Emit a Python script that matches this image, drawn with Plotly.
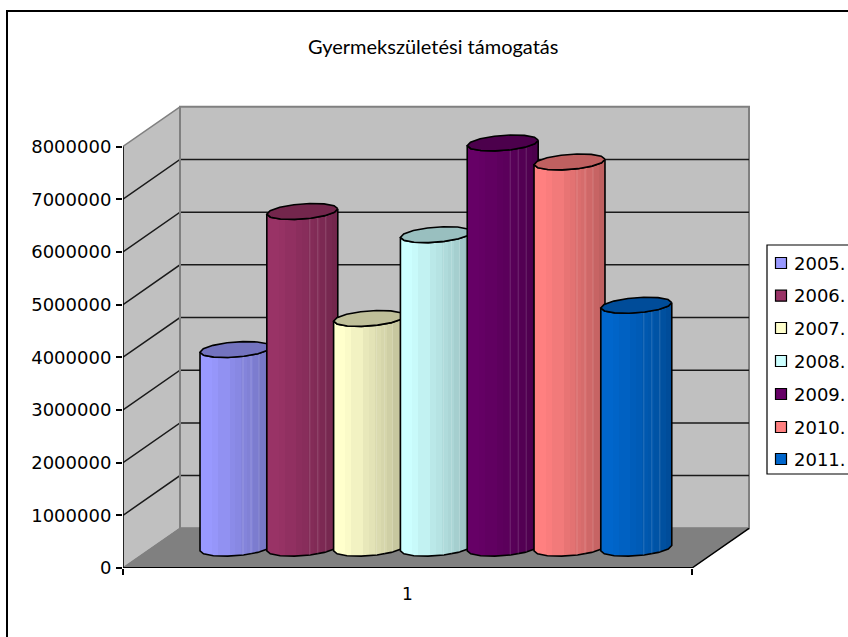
import numpy as np
import plotly.graph_objects as go

# ---- data ----
YEARS = ["2005.", "2006.", "2007.", "2008.", "2009.", "2010.", "2011."]
VALUES = [3770000, 6390000, 4360000, 5950000, 7690000, 7330000, 4610000]
COLORS = ["#9999FF", "#993366", "#FFFFCC", "#CCFFFF", "#660066", "#FF8080", "#0066CC"]
Y_TICKS = [0, 1000000, 2000000, 3000000, 4000000, 5000000, 6000000, 7000000, 8000000]
TITLE = "Gyermekszületési támogatás"
CATEGORY = "1"

# ---- page geometry (pixels) ----
W, H = 848, 637
X0, X1 = 123.0, 692.0       # front edge of floor
Y0, Y8 = 568.0, 146.5       # value axis 0 and 8 000 000
DPX, DPY = 57.0, 39.7       # depth of the box
FONT = "DejaVu Sans"
TITLE_FONT = "Lato"

ux = X1 - X0                            # px per x unit
uy = (Y0 - Y8) / 8000000.0              # px per value unit
dx, dy = DPX / ux, DPY / uy             # depth in data units
XMAX = (W - X0) / ux
YMAX = Y0 / uy
TOPV = Y_TICKS[-1]


def px(x):
    return (x - X0) / ux


def py(y):
    return (Y0 - y) / uy


def paper_x(x):
    return (x - X0) / (W - X0)


def paper_y(y):
    return (Y0 - y) / Y0


def shade(hexcol, f):
    r, g, b = [int(hexcol[i:i + 2], 16) for i in (1, 3, 5)]
    return f"rgb({r * f:.0f},{g * f:.0f},{b * f:.0f})"


fig = go.Figure()


def poly(xs, ys, fill=None, line=None, lw=1.5):
    fig.add_trace(go.Scatter(
        x=list(xs), y=list(ys), mode="lines", hoverinfo="skip", showlegend=False,
        fill="toself" if fill else "none", fillcolor=fill,
        line=dict(color=line or "rgba(0,0,0,0)", width=lw if line else 0),
    ))


# back wall, side wall, floor
poly([dx, 1 + dx, 1 + dx, dx, dx], [dy, dy, TOPV + dy, TOPV + dy, dy], fill="#C0C0C0", line="#808080", lw=2)
poly([0, dx, dx, 0, 0], [0, dy, TOPV + dy, TOPV, 0], fill="#C0C0C0", line="#808080", lw=1.5)
poly([0, dx, 1 + dx, 1, 0], [0, dy, dy, 0, 0], fill="#808080", line="#808080", lw=1)

# gridlines
for v in Y_TICKS[1:-1]:
    poly([0, dx, 1 + dx], [v, v + dy, v + dy], line="#1a1a1a", lw=1.5)

# redraw wall inner edge and the front-right floor edge
poly([dx, dx], [dy, TOPV + dy], line="#808080", lw=2)
poly([1, 1 + dx], [0, dy], line="#000000", lw=1.5)

# cylinders (faceted, like the low-polygon originals)
STEP = 66.8 / ux
CX0 = (235.5 - X0) / ux
AW = 33.5 / ux              # half width vector (x)
VX = 11.7 / ux              # half depth vector
VY = 8.0 / uy
FACETS = 14
t_round = np.linspace(0, 2 * np.pi, FACETS + 1) + 0.35
SHADES = [1.0, 1.0, 0.98, 0.95, 0.95, 0.91, 0.89, 0.86, 0.84, 0.81, 0.78, 0.75]
HILITES = [43.0, 51.0, 59.0]   # px from the cylinder's left edge
EXT = np.arctan2(VX * ux, AW * ux)

for i, (year, val, col) in enumerate(zip(YEARS, VALUES, COLORS)):
    cx = CX0 + i * STEP
    base = dy / 2
    t_b = np.linspace(EXT, EXT - np.pi, FACETS // 2 + 1)
    xb = cx + AW * np.cos(t_b) + VX * np.sin(t_b)
    yb = base + VY * np.sin(t_b)
    xt, yt = xb, yb + val
    bx = np.concatenate([xt[:1], xb, xt[-1:], xt[::-1]])
    by = np.concatenate([yt[:1], yb, yt[-1:], yt[::-1]])
    k = len(SHADES)
    cs = []
    for j, f in enumerate(SHADES):
        cs.append([j / k, shade(col, f)])
        cs.append([(j + 1) / k, shade(col, f)])
    fig.add_trace(go.Scatter(
        x=bx, y=by, mode="lines", name=year, hoverinfo="skip", showlegend=False,
        fill="toself", fillgradient=dict(type="horizontal", colorscale=cs),
        line=dict(color="#000000", width=1.6),
    ))
    # faint vertical seams on the shaded side
    left = xb.min()
    order = np.argsort(xb)
    for off in HILITES:
        sx = left + off / ux
        sy = float(np.interp(sx, xb[order], yb[order]))
        poly([sx, sx], [sy, sy + val], line="rgba(255,255,255,0.16)", lw=1)
    # top face
    tx = cx + AW * np.cos(t_round) + VX * np.sin(t_round)
    ty = base + val + VY * np.sin(t_round)
    poly(tx, ty, fill=shade(col, 0.75), line="#000000", lw=1.6)

# axis lines
poly([0, 0], [0, TOPV], line="#000000", lw=1.5)
poly([0, 1], [0, 0], line="#000000", lw=2)

# legend
LEG_Y = [263, 295.7, 328, 361, 394, 427, 459]
for year, col, y in zip(YEARS, COLORS, LEG_Y):
    fig.add_trace(go.Scatter(
        x=[px(781)], y=[py(y)], mode="markers", hoverinfo="skip", showlegend=False,
        marker=dict(symbol="square", size=11, color=col, line=dict(color="#000000", width=1.2)),
    ))

annotations = [
    dict(x=paper_x(432.5), y=paper_y(46), xref="paper", yref="paper", text=TITLE, showarrow=False,
         xanchor="center", yanchor="middle", font=dict(family=TITLE_FONT, size=20, color="#000000")),
]
for year, y in zip(YEARS, LEG_Y):
    annotations.append(dict(x=paper_x(792), y=paper_y(y), xref="paper", yref="paper", text=year,
                            showarrow=False, xanchor="left", yanchor="middle",
                            font=dict(family=FONT, size=18, color="#000000")))

shapes = [
    # chart frame, right and bottom edges fall off the page
    dict(type="path", xref="paper", yref="paper", line=dict(color="#000000", width=2),
         path=f"M {paper_x(7)} {paper_y(640)} L {paper_x(7)} {paper_y(11)} L {paper_x(850)} {paper_y(11)}"),
    # legend box
    dict(type="path", xref="paper", yref="paper", line=dict(color="#000000", width=1.2),
         path=f"M {paper_x(852)} {paper_y(245)} L {paper_x(767)} {paper_y(245)} L {paper_x(767)} {paper_y(474)} L {paper_x(852)} {paper_y(474)}"),
]

fig.update_layout(
    width=W, height=H, autosize=False,
    margin=dict(l=X0, r=0, t=0, b=H - Y0, pad=0),
    paper_bgcolor="white", plot_bgcolor="white",
    font=dict(family=FONT, size=18, color="#000000"),
    showlegend=False,
    annotations=annotations, shapes=shapes,
    xaxis=dict(range=[0, XMAX], tickmode="array", tickvals=[0.5], ticktext=[CATEGORY], ticks="",
               showgrid=False, zeroline=False, showline=False, ticklabelstandoff=14,
               tickfont=dict(family=FONT, size=17),
               minor=dict(tickmode="array", tickvals=[0, 1], ticks="outside", ticklen=6, tickwidth=1.5,
                          tickcolor="#000000", showgrid=False)),
    yaxis=dict(range=[0, YMAX], tickmode="array", tickvals=Y_TICKS, ticktext=[str(v) for v in Y_TICKS],
               ticks="outside", ticklen=6, tickwidth=1.5, tickcolor="#000000",
               showgrid=False, zeroline=False, showline=False, ticklabelstandoff=1,
               tickfont=dict(family=FONT, size=18)),
)

fig.write_html("out.html", config=dict(displayModeBar=False),
               post_script="document.body.style.margin='0';document.body.style.overflow='hidden';")
